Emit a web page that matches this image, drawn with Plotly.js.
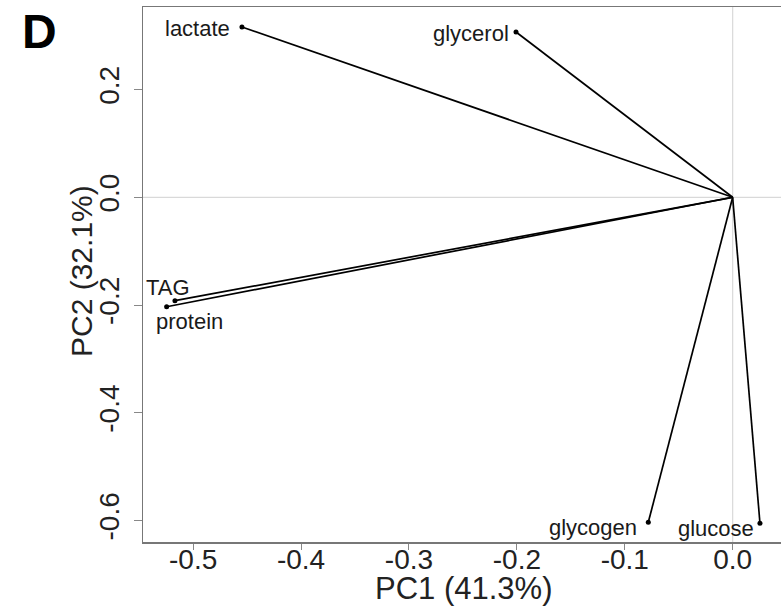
<!DOCTYPE html>
<html>
<head>
<meta charset="utf-8">
<script src="https://cdn.plot.ly/plotly-3.0.1.min.js"></script>
<style>html,body{margin:0;padding:0;background:#fff;}#chart{width:781px;height:607px;}</style>
</head>
<body>
<div id="chart"></div>
<script>
// Loadings (PC1, PC2)
const variables = ["lactate", "glycerol", "TAG", "protein", "glycogen", "glucose"];
const pc1 = [-0.4548, -0.2008, -0.5169, -0.5246, -0.0782, 0.0253];
const pc2 = [0.3161, 0.3068, -0.1919, -0.2031, -0.6033, -0.6051];

const xTickVals = [-0.5, -0.4, -0.3, -0.2, -0.1, 0.0];
const xTickText = ["-0.5", "-0.4", "-0.3", "-0.2", "-0.1", "0.0"];
const yTickVals = [0.2, 0.0, -0.2, -0.4, -0.6];
const yTickText = ["0.2", "0.0", "-0.2", "-0.4", "-0.6"];
const xTitle = "PC1 (41.3%)";
const yTitle = "PC2 (32.1%)";

// label placement (style only)
const labelStyle = {
  lactate:  {xanchor: "right",  xshift: -10, yshift: -2},
  glycerol: {xanchor: "right",  xshift: -5,  yshift: -1},
  TAG:      {xanchor: "center", xshift: -7,  yshift: 13},
  protein:  {xanchor: "left",   xshift: -13, yshift: -15},
  glycogen: {xanchor: "right",  xshift: -9,  yshift: -5},
  glucose:  {xanchor: "right",  xshift: -4,  yshift: -5}
};

const traces = [];
variables.forEach((v, i) => {
  traces.push({
    type: "scatter", mode: "lines",
    x: [0, pc1[i]], y: [0, pc2[i]],
    line: {color: "#000", width: 1.7},
    hoverinfo: "skip", showlegend: false
  });
});
traces.push({
  type: "scatter", mode: "markers",
  x: pc1, y: pc2, text: variables,
  marker: {color: "#000", size: 5},
  showlegend: false
});

const font = "Liberation Sans, Arial, sans-serif";
const annotations = variables.map((v, i) => ({
  x: pc1[i], y: pc2[i], xref: "x", yref: "y",
  text: v, showarrow: false,
  xanchor: labelStyle[v].xanchor, yanchor: "middle",
  xshift: labelStyle[v].xshift, yshift: labelStyle[v].yshift,
  font: {family: font, size: 22, color: "#1a1a1a"}
}));
annotations.push({
  xref: "paper", yref: "paper", x: -0.19, y: 1.0,
  xanchor: "left", yanchor: "top",
  xshift: -2, yshift: 4,
  text: "<b>D</b>", showarrow: false,
  font: {family: font, size: 48, color: "#000"}
});
// axis titles
annotations.push({
  xref: "paper", yref: "paper", x: 0.5016, y: -0.086,
  xanchor: "center", yanchor: "middle",
  text: xTitle, showarrow: false,
  font: {family: font, size: 31, color: "#222"}
});
annotations.push({
  xref: "paper", yref: "paper", x: -0.0972, y: 0.5065,
  xanchor: "center", yanchor: "middle", textangle: -90,
  text: yTitle, showarrow: false,
  font: {family: font, size: 30, color: "#222"}
});

const layout = {
  width: 781, height: 607,
  margin: {l: 143, r: 0, t: 7, b: 65, pad: 0},
  paper_bgcolor: "#fff", plot_bgcolor: "#fff",
  font: {family: font, color: "#222"},
  xaxis: {
    range: [-0.5465, 0.0448],
    tickvals: xTickVals, ticktext: xTickText,
    ticks: "outside", ticklen: 6, tickcolor: "#888", tickwidth: 1,
    ticklabelstandoff: -14,
    showline: true, linecolor: "#777", linewidth: 1.5, mirror: true,
    showgrid: false, zeroline: false,
    tickfont: {family: font, size: 28, color: "#222"}
  },
  yaxis: {
    range: [-0.6398, 0.3532],
    tickvals: yTickVals, ticktext: yTickText,
    ticks: "outside", ticklen: 8, tickcolor: "#888", tickwidth: 1,
    tickangle: -90, ticklabelstandoff: 3,
    showline: true, linecolor: "#777", linewidth: 1.5, mirror: false,
    showgrid: false, zeroline: false,
    tickfont: {family: font, size: 28, color: "#222"}
  },
  shapes: [
    {type: "line", xref: "x", yref: "paper", x0: 0, x1: 0, y0: 0, y1: 1, line: {color: "#d9d9d9", width: 1.2}, layer: "below"},
    {type: "line", xref: "paper", yref: "y", x0: 0, x1: 1, y0: 0, y1: 0, line: {color: "#d9d9d9", width: 1.2}, layer: "below"}
  ],
  annotations: annotations
};

Plotly.newPlot("chart", traces, layout, {displayModeBar: false, staticPlot: true});
</script>
</body>
</html>
